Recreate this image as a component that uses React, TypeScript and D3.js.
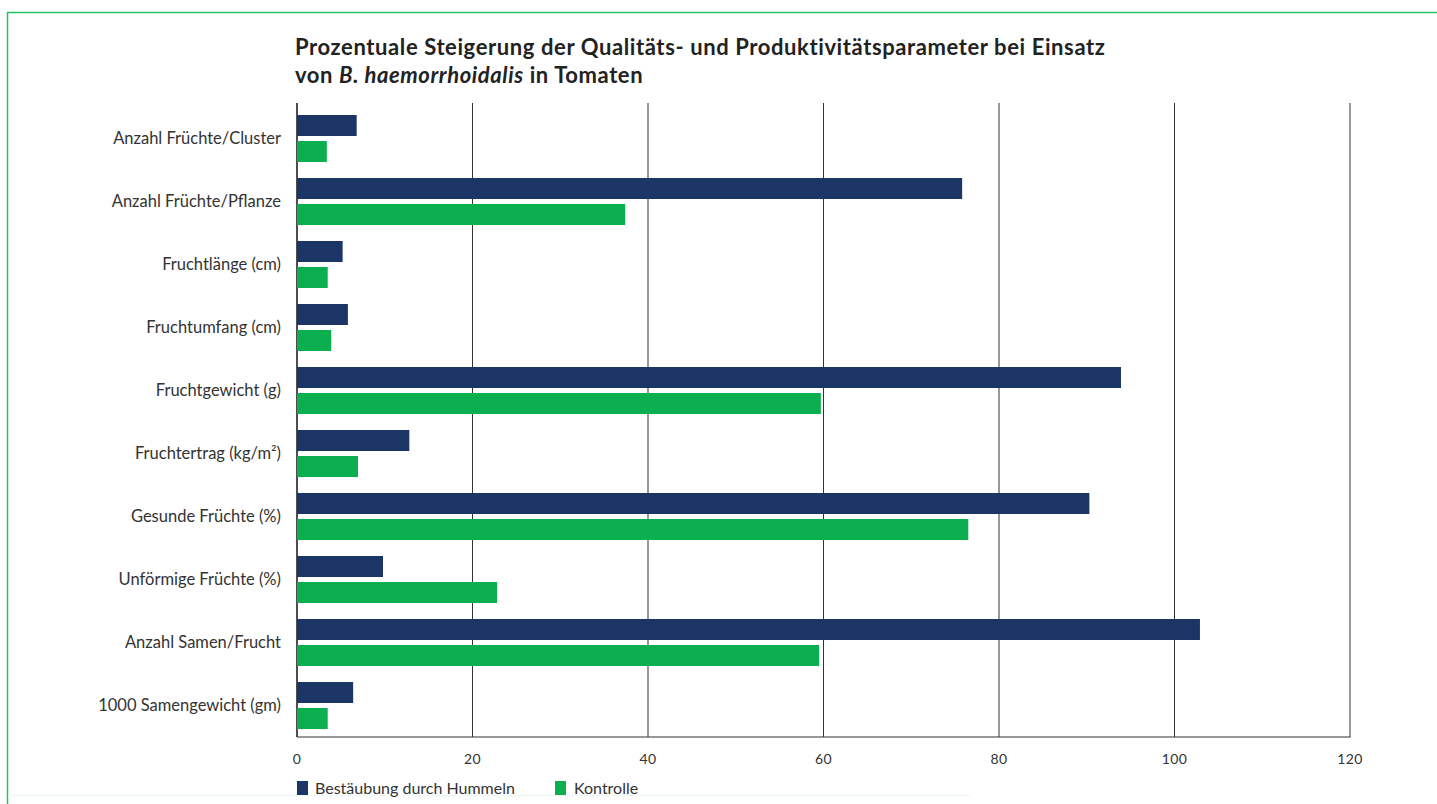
import React from "react";
import * as d3 from "d3";

const categories = [
  "Anzahl Früchte/Cluster",
  "Anzahl Früchte/Pflanze",
  "Fruchtlänge (cm)",
  "Fruchtumfang (cm)",
  "Fruchtgewicht (g)",
  "Fruchtertrag (kg/m²)",
  "Gesunde Früchte (%)",
  "Unförmige Früchte (%)",
  "Anzahl Samen/Frucht",
  "1000 Samengewicht (gm)",
];
const hummeln = [6.8, 75.8, 5.2, 5.8, 93.9, 12.8, 90.3, 9.8, 102.9, 6.4];
const kontrolle = [3.4, 37.4, 3.5, 3.9, 59.7, 6.95, 76.5, 22.8, 59.5, 3.5];
const xTicks = [0, 20, 40, 60, 80, 100, 120];
const seriesNames = ["Bestäubung durch Hummeln", "Kontrolle"];
const titleLine1 = "Prozentuale Steigerung der Qualitäts- und Produktivitätsparameter bei Einsatz";

const W = 1437;
const H = 804;
const NAVY = "#1b3567";
const GREEN = "#0caf4f";
const FONT = "Lato, 'Open Sans', sans-serif";

export default function App() {
  const x = d3.scaleLinear().domain([0, 120]).range([297, 1350]);
  const y = d3.scaleBand<string>().domain(categories).range([107, 737]).paddingInner(0).paddingOuter(0);
  const bh = 21;
  const gap = 5;
  const top = 103;
  const bottom = 737;
  return (
    <svg width={W} height={H} style={{ position: "absolute", left: 0, top: 0, background: "#fff" }} fontFamily={FONT}>
      {/* frame */}
      <line x1={7} y1={12.5} x2={W} y2={12.5} stroke="#22c35e" strokeWidth={1.5} />
      <line x1={7.5} y1={12} x2={7.5} y2={H} stroke="#22c35e" strokeWidth={1.5} />
      <line x1={8} y1={795.5} x2={970} y2={795.5} stroke="#eef9f5" strokeWidth={1.5} />
      {/* title */}
      <text x={295} y={55} fontSize={22} fontWeight={700} fill="#222" letterSpacing={0.6}>{titleLine1}</text>
      <text x={295} y={83} fontSize={22} fontWeight={700} fill="#222" letterSpacing={0.6}>
        von <tspan fontStyle="italic">B. haemorrhoidalis</tspan> in Tomaten
      </text>
      {/* grid */}
      {xTicks.map((t) => (
        <g key={t}>
          <line x1={x(t)} x2={x(t)} y1={top} y2={bottom} stroke={t === 0 ? "#222" : "#333"} strokeWidth={t === 0 ? 1.6 : 1} />
          <text x={x(t)} y={764} textAnchor="middle" fontSize={14} fill="#333" letterSpacing={0.3}>{t}</text>
        </g>
      ))}
      <line x1={297} x2={1350.5} y1={bottom} y2={bottom} stroke="#333" strokeWidth={1.2} />
      {/* bars */}
      {categories.map((c, i) => {
        const cy = (y(c) as number) + y.bandwidth() / 2;
        return (
          <g key={c}>
            <rect x={x(0)} y={cy - gap / 2 - bh} width={x(hummeln[i]) - x(0)} height={bh} fill={NAVY} />
            <rect x={x(0)} y={cy + gap / 2} width={x(kontrolle[i]) - x(0)} height={bh} fill={GREEN} />
            <text x={281} y={cy + 5} textAnchor="end" fontSize={16.5} fill="#333">{c}</text>
          </g>
        );
      })}
      {/* legend */}
      <rect x={297} y={781} width={11} height={14} fill={NAVY} />
      <text x={315} y={794} fontSize={16} fill="#333">{seriesNames[0]}</text>
      <rect x={555} y={781} width={11} height={14} fill={GREEN} />
      <text x={574} y={794} fontSize={16} fill="#333">{seriesNames[1]}</text>
    </svg>
  );
}
